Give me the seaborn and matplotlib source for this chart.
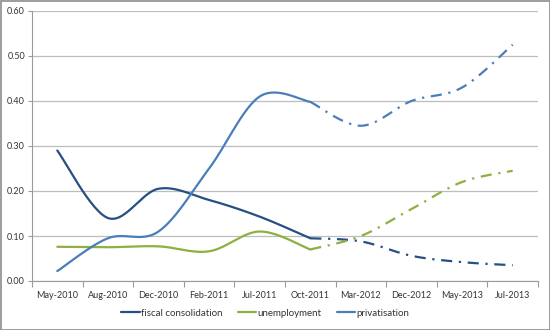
import numpy as np
import pandas as pd
import matplotlib
matplotlib.use("Agg")
import matplotlib.pyplot as plt
import seaborn as sns
from matplotlib.patches import Rectangle

months = ["May-2010", "Aug-2010", "Dec-2010", "Feb-2011", "Jul-2011",
          "Oct-2011", "Mar-2012", "Dec-2012", "May-2013", "Jul-2013"]
fiscal = [0.290, 0.140, 0.205, 0.180, 0.143, 0.095, 0.088, 0.056, 0.042, 0.035]
unemployment = [0.076, 0.075, 0.077, 0.066, 0.110, 0.070, 0.100, 0.160, 0.220, 0.245]
privatisation = [0.022, 0.095, 0.110, 0.250, 0.410, 0.398, 0.345, 0.400, 0.430, 0.525]
series_names = ["fiscal consolidation", "unemployment", "privatisation"]
colors = ["#264F82", "#8DB040", "#4A7EBB"]
split_index = 5  # Oct-2011: solid up to here, dash-dot after

sns.set_theme(style="white")
plt.rcParams["font.family"] = ["Lato", "DejaVu Sans"]

fig = plt.figure(figsize=(5.5, 3.3), dpi=100)
ax = fig.add_axes([32 / 550, 49 / 330, 506 / 550, 270 / 330])


def smooth_curve(xs, ys, steps=30):
    """Excel-like smooth line: cubic Bezier through the points."""
    p = np.column_stack([xs, ys]).astype(float)
    n = len(p)
    out = []
    for i in range(n - 1):
        pm = p[max(i - 1, 0)]
        p0 = p[i]
        p1 = p[i + 1]
        p2 = p[min(i + 2, n - 1)]
        c1 = p0 + (p1 - pm) / 6.0
        c2 = p1 - (p2 - p0) / 6.0
        t = np.linspace(0, 1, steps)[:, None]
        b = ((1 - t) ** 3) * p0 + 3 * ((1 - t) ** 2) * t * c1 + 3 * (1 - t) * t ** 2 * c2 + t ** 3 * p1
        out.append(b)
    return np.vstack(out)


x = np.arange(len(months))
for name, vals, col in zip(series_names, [fiscal, unemployment, privatisation], colors):
    solid = smooth_curve(x[:split_index + 1], vals[:split_index + 1])
    dashed = smooth_curve(x[split_index:], vals[split_index:])
    sns.lineplot(x=solid[:, 0], y=solid[:, 1], ax=ax, color=col, linewidth=1.6,
                 sort=False, estimator=None, label=name)
    sns.lineplot(x=dashed[:, 0], y=dashed[:, 1], ax=ax, color=col, linewidth=1.6,
                 sort=False, estimator=None)
    ax.lines[-1].set_dashes((5, 3, 1, 3))
    ax.lines[-1].set_label("_nolegend_")

ax.set_xlim(-0.5, len(months) - 0.5)
ax.set_ylim(0, 0.6)
ax.set_xticks(x)
ax.set_xticklabels(months)
ax.set_xticks(np.arange(-0.5, len(months)), minor=True)
ax.set_yticks(np.arange(0, 0.61, 0.1))
ax.set_yticklabels([f"{v:.2f}" for v in np.arange(0, 0.61, 0.1)])
ax.tick_params(axis="x", which="major", length=0, labelsize=6.5, colors="#333333", pad=7)
ax.tick_params(axis="x", which="minor", length=4, width=0.8, color="#9A9A9A", bottom=True)
ax.tick_params(axis="y", which="major", length=3, width=0.8, color="#9A9A9A",
               labelsize=6.5, labelcolor="#333333", left=True, pad=2)
ax.yaxis.grid(True, color="#BDBDBD", linewidth=0.9)
ax.set_axisbelow(True)
for s in ["top", "right"]:
    ax.spines[s].set_visible(False)
for s in ["left", "bottom"]:
    ax.spines[s].set_color("#9A9A9A")
    ax.spines[s].set_linewidth(0.8)

if ax.legend_:
    ax.legend_.remove()
handles, labels = ax.get_legend_handles_labels()
fig.legend(handles, labels, loc="center", bbox_to_anchor=(265 / 550, 17 / 330), ncol=3,
           frameon=False, fontsize=7, handlelength=1.9, handletextpad=0.1,
           columnspacing=1.6, labelcolor="#333333")

fig.patches.append(Rectangle((0.5 / 550, 0.5 / 330), 549 / 550, 329 / 330, transform=fig.transFigure,
                             fill=False, edgecolor="#8C8C8C", linewidth=1.2))

fig.savefig("out.png", dpi=100)
